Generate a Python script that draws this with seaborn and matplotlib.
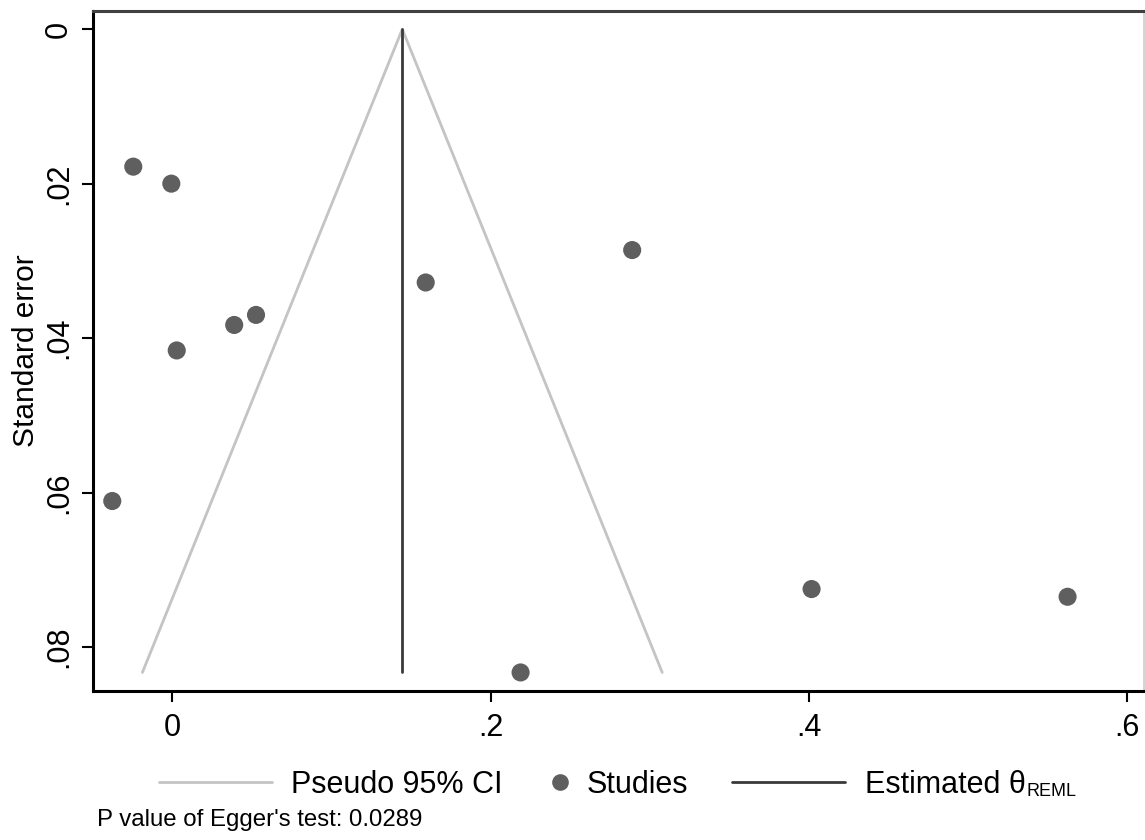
import matplotlib
matplotlib.use("Agg")
import matplotlib.pyplot as plt
from matplotlib.lines import Line2D
import seaborn as sns
import numpy as np
import pandas as pd

# ---- data ----
effect = [-0.0245, -0.0006, 0.1592, 0.2889, 0.0389, 0.0526, 0.0028, -0.0377, 0.4016, 0.5624, 0.2188]
std_err = [0.0178, 0.0200, 0.0328, 0.0286, 0.0383, 0.0370, 0.0416, 0.0611, 0.0725, 0.0735, 0.0833]
theta_reml = 0.1445
x_ticks = [0, 0.2, 0.4, 0.6]
x_tick_labels = ["0", ".2", ".4", ".6"]
y_ticks = [0, 0.02, 0.04, 0.06, 0.08]
y_tick_labels = ["0", ".02", ".04", ".06", ".08"]
egger_p = "0.0289"

sns.set_style("white")
plt.rcParams["font.family"] = ["Liberation Sans", "DejaVu Sans"]
plt.rcParams["text.color"] = "black"
plt.rcParams["axes.labelcolor"] = "black"
plt.rcParams["xtick.color"] = "black"
plt.rcParams["ytick.color"] = "black"

df = pd.DataFrame({"effect": effect, "se": std_err})
se_max = max(std_err)
funnel = pd.DataFrame({
    "x": [theta_reml - 1.96 * se_max, theta_reml, theta_reml + 1.96 * se_max],
    "y": [se_max, 0.0, se_max],
})
theta_df = pd.DataFrame({"x": [theta_reml, theta_reml], "y": [0.0, se_max]})

fig = plt.figure(figsize=(11.45, 8.4), dpi=100)
ax = fig.add_axes([0.0815, 0.1774, 0.9176, 0.8099])

ci_color = "#c4c4c4"
pt_color = "#5f5f5f"
th_color = "#3a3a3a"

sns.lineplot(data=funnel, x="x", y="y", sort=False, estimator=None, ax=ax,
             color=ci_color, linewidth=2.0)
sns.lineplot(data=theta_df, x="x", y="y", sort=False, estimator=None, ax=ax,
             color=th_color, linewidth=2.0)
sns.scatterplot(data=df, x="effect", y="se", ax=ax, color=pt_color, s=170,
                edgecolor="none", zorder=3)

ax.set_xlim(-0.0496, 0.6104)
ax.set_ylim(0.0857, -0.0024)
ax.set_xticks(x_ticks)
ax.set_xticklabels(x_tick_labels, fontsize=22)
ax.set_yticks(y_ticks)
ax.set_yticklabels(y_tick_labels, fontsize=22, rotation=90, va="center")
ax.tick_params(axis="both", direction="out", length=8, width=1.5, color="black",
               labelcolor="black", left=True, bottom=True)
ax.tick_params(axis="x", pad=8)
ax.tick_params(axis="y", pad=6)
ax.set_xlabel("")
ax.set_ylabel("Standard error", fontsize=21.5, labelpad=3, color="black")

for side in ["left", "bottom"]:
    ax.spines[side].set_color("black")
    ax.spines[side].set_linewidth(2.2)
ax.spines["top"].set_color("#404040")
ax.spines["top"].set_linewidth(2.2)
ax.spines["right"].set_color("#cccccc")
ax.spines["right"].set_linewidth(1.2)

leg_y = 0.0655
common = dict(loc="center left", frameon=False, fontsize=22, borderpad=0,
              borderaxespad=0, labelcolor="black")
leg1 = fig.legend([Line2D([0], [0], color=ci_color, linewidth=2.0)],
                  ["Pseudo 95% CI"], bbox_to_anchor=(0.1389, leg_y),
                  handlelength=3.7, handletextpad=0.62, **common)
leg2 = fig.legend([Line2D([0], [0], marker="o", linestyle="none", color=pt_color,
                          markersize=12, markeredgewidth=0)],
                  ["Studies"], bbox_to_anchor=(0.476, leg_y),
                  handlelength=1.0, handletextpad=0.37, **common)
leg3 = fig.legend([Line2D([0], [0], color=th_color, linewidth=2.0)],
                  ["Estimated θ"], bbox_to_anchor=(0.6393, leg_y),
                  handlelength=3.7, handletextpad=0.65, **common)

# small "REML" subscript placed right after the legend text, on its baseline
fig.canvas.draw()
renderer = fig.canvas.get_renderer()
t = leg3.get_texts()[0]
bb = t.get_window_extent(renderer=renderer)
_, _, descent = renderer.get_text_width_height_descent(
    "Estimated", t.get_fontproperties(), ismath=False)
x_sub = (bb.x1 + 1) / fig.bbox.width
y_sub = (bb.y0 + descent + 4) / fig.bbox.height
fig.text(x_sub, y_sub, "REML", fontsize=13, ha="left", va="baseline", color="black")

fig.text(0.085, 0.011, f"P value of Egger's test: {egger_p}", fontsize=17.3,
         ha="left", va="bottom", color="black")

fig.savefig("out.png", dpi=100, facecolor="white")
